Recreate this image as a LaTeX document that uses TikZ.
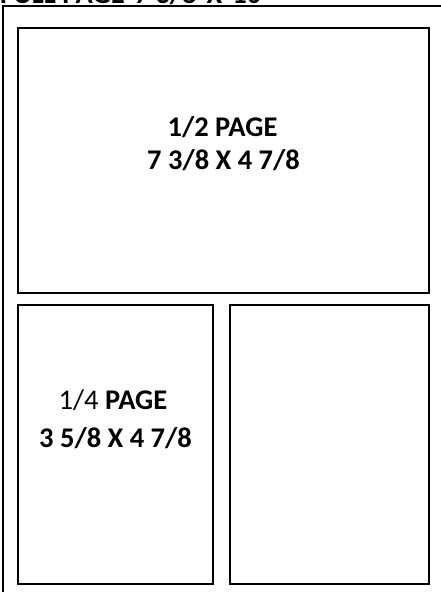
\documentclass[tikz,border=0pt]{standalone}
\usepackage{fontspec}
\setmainfont{Carlito}
\begin{document}
\begin{tikzpicture}[x=1pt,y=-1pt,
  frame/.style={draw=black,line width=1.7pt},
  lbl/.style={anchor=base,inner sep=0pt,font=\fontsize{28.5}{32}\selectfont\bfseries}]
\useasboundingbox (0,0) rectangle (441,592);
\clip (0,0) rectangle (441,592);
\fill[white] (0,0) rectangle (441,592);
\draw[frame] (3,6) rectangle (460,610);
\node[lbl,anchor=base west] (title) at (0,3.5) {FULL PAGE\hspace{10pt}7 3/8\hspace{10pt}X\hspace{10pt}10};
\node[frame,minimum width=411pt,minimum height=265pt,inner sep=0pt] (half) at (223.5,160.5) {};
\node[frame,minimum width=195pt,minimum height=279pt,inner sep=0pt] (quarter) at (115.5,444.5) {};
\node[frame,minimum width=199pt,minimum height=279pt,inner sep=0pt] (right) at (329.5,444.5) {};
\node[lbl] (h1) at (222.5,136) {1/2 PAGE};
\node[lbl] (h2) at (223.5,169) {7 3/8 X 4 7/8};
\node[lbl] (q1) at (113,409) {\mdseries 1/4 \bfseries PAGE};
\node[lbl] (q2) at (115.5,447) {3 5/8 X 4 7/8};
\end{tikzpicture}
\end{document}
